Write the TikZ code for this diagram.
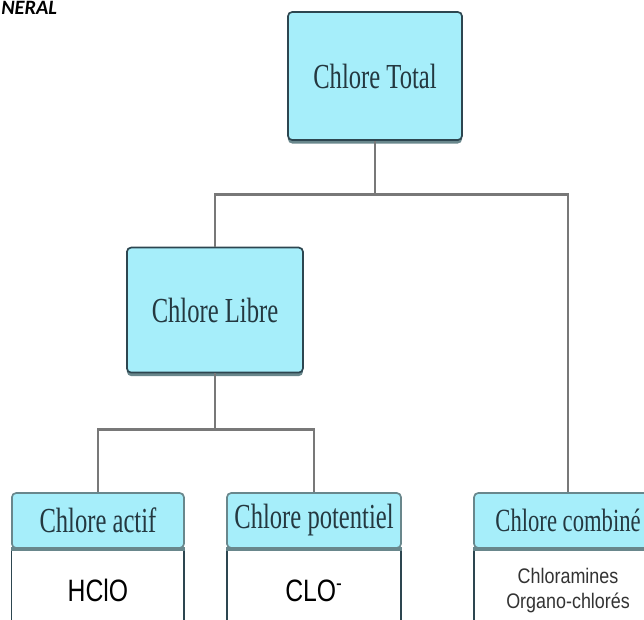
\documentclass[tikz,border=0pt]{standalone}
\usepackage{fontspec}
\newfontfamily\boxfont[FakeStretch=0.7]{Liberation Serif}
\newfontfamily\chemfont[FakeStretch=0.8]{Liberation Sans}
\newfontfamily\smallfont[FakeStretch=0.85]{Liberation Sans}
\newfontfamily\titlefont{Carlito}
\usetikzlibrary{positioning,shadows}
\definecolor{boxcyan}{RGB}{166,238,250}
\definecolor{boxline}{RGB}{45,70,80}
\definecolor{linkgray}{RGB}{120,120,120}
\definecolor{sepgray}{RGB}{105,135,140}

\begin{document}
\begin{tikzpicture}[x=0.025cm,y=-0.025cm,node distance=2cm,
main node/.style={rectangle,rounded corners=3pt,draw=boxline,line width=1.2pt,fill=boxcyan,align=center,
  font=\boxfont\fontsize{25}{28}\selectfont,text=boxline!80!black,
  drop shadow={shadow xshift=0pt,shadow yshift=-2.5pt,fill=sepgray,opacity=1}},
head node/.style={rectangle,rounded corners=3pt,draw=sepgray,line width=1.2pt,fill=boxcyan,
  minimum height=1.375cm,inner sep=0pt,font=\boxfont\fontsize{25}{28}\selectfont,text=boxline!80!black},
body node/.style={rectangle,draw=boxline,line width=0.8pt,fill=white,inner sep=0pt,
  minimum height=2.05cm,align=center},
link/.style={draw=linkgray,line width=2pt},
sep/.style={draw=sepgray,line width=2.5pt}]

\useasboundingbox (0,0) rectangle (644,619);
\clip (0,0) rectangle (644,619);

\node[anchor=base west,inner sep=0pt,font=\titlefont\bfseries\itshape\fontsize{14.5}{16}\selectfont] (0) at (1,14) {NERAL};

\node[main node,minimum width=4.35cm,minimum height=3.2cm] (1) at (375,76) {Chlore Total};
\node[main node,minimum width=4.4cm,minimum height=3.125cm] (2) [below of=1,node distance=5.85cm,xshift=-4cm] {Chlore Libre};

% bottom row: header + body
\node[head node,minimum width=4.3cm] (3) [below of=2,node distance=5.26cm,xshift=-2.925cm] {Chlore actif};
\node[body node,minimum width=4.3cm,font=\chemfont\fontsize{22}{24}\selectfont] (4) [below=0pt of 3] {HClO};
\node[head node,minimum width=4.35cm] (5) [below of=2,node distance=5.26cm,xshift=2.475cm] {Chlore potentiel};
\node[body node,minimum width=4.35cm,font=\chemfont\fontsize{22}{24}\selectfont] (6) [below=0pt of 5] {CLO\textsuperscript{-}};
\node[head node,minimum width=4.7cm,font=\boxfont\fontsize{23}{26}\selectfont] (7) [below of=1,node distance=11.11cm,xshift=4.825cm] {Chlore combiné};
\node[body node,minimum width=4.7cm,font=\smallfont\fontsize{15}{18}\selectfont,text=black!80] (8) [below=0pt of 7] {Chloramines\\Organo-chlorés};

\path[sep] (3.south west) -- (3.south east);
\path[sep] (5.south west) -- (5.south east);
\path[sep] (7.south west) -- (7.south east);

%links
\path[link] (1.south) -- ++(0,54) coordinate (j1) -| (2.north);
\path[link] (j1) -| (7.north);
\path[link] (2.south) -- ++(0,56) coordinate (j2) -| (3.north);
\path[link] (j2) -| (5.north);

\end{tikzpicture}
\end{document}
